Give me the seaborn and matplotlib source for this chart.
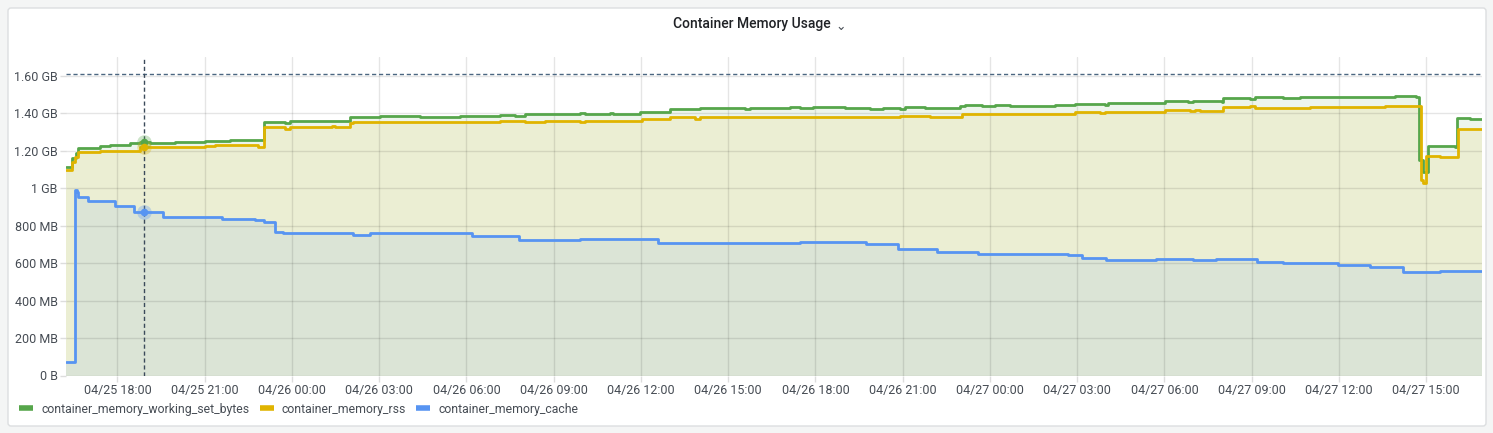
import matplotlib
matplotlib.use("Agg")
import matplotlib.pyplot as plt
import matplotlib.dates as mdates
from matplotlib.lines import Line2D
from matplotlib.patches import FancyBboxPatch
from matplotlib.ticker import FuncFormatter, MultipleLocator
from matplotlib.transforms import IdentityTransform
import pandas as pd
import seaborn as sns

# values in MB, step change points
ws_times = [
    "04-25 16:14", "04-25 16:27", "04-25 16:35", "04-25 16:39", "04-25 17:24", "04-25 17:45",
    "04-25 17:57", "04-25 18:26", "04-25 18:47", "04-25 19:07", "04-25 19:59", "04-25 20:16",
    "04-25 21:01", "04-25 21:11", "04-25 21:52", "04-25 23:03", "04-25 23:46", "04-25 23:56",
    "04-26 00:58", "04-26 02:00", "04-26 03:02", "04-26 04:24", "04-26 05:47", "04-26 07:09",
    "04-26 07:40", "04-26 08:01", "04-26 08:42", "04-26 09:54", "04-26 10:05", "04-26 10:56",
    "04-26 11:02", "04-26 11:58", "04-26 12:02", "04-26 13:00", "04-26 14:02", "04-26 15:35",
    "04-26 15:45", "04-26 16:47", "04-26 17:07", "04-26 17:28", "04-26 17:55", "04-26 18:09",
    "04-26 19:01", "04-26 19:52", "04-26 20:19", "04-26 20:54", "04-26 21:05", "04-26 21:46",
    "04-26 22:58", "04-26 23:08", "04-26 23:43", "04-27 00:10", "04-27 00:41", "04-27 01:43",
    "04-27 02:14", "04-27 02:55", "04-27 03:57", "04-27 04:03", "04-27 06:01", "04-27 06:48",
    "04-27 06:59", "04-27 07:59", "04-27 08:01", "04-27 08:56", "04-27 09:07", "04-27 09:58",
    "04-27 10:04", "04-27 10:39", "04-27 11:00", "04-27 11:48", "04-27 12:02", "04-27 12:54",
    "04-27 13:55", "04-27 14:06", "04-27 14:39", "04-27 14:45", "04-27 14:49", "04-27 14:53",
    "04-27 15:04", "04-27 15:59", "04-27 16:03", "04-27 16:30",
]
ws_values = [
    1112, 1160, 1187, 1215, 1226, 1228,
    1232, 1242, 1245, 1240, 1247, 1244,
    1252, 1249, 1256, 1352, 1347, 1357,
    1361, 1380, 1384, 1381, 1387, 1389,
    1384, 1396, 1395, 1402, 1396, 1400,
    1398, 1405, 1407, 1421, 1427, 1425,
    1428, 1427, 1434, 1428, 1434, 1432,
    1430, 1423, 1427, 1421, 1432, 1427,
    1437, 1443, 1437, 1444, 1436, 1439,
    1444, 1448, 1443, 1452, 1466, 1460,
    1466, 1460, 1482, 1478, 1484, 1485,
    1480, 1485, 1489, 1485, 1489, 1487,
    1491, 1494, 1487, 1149, 1149, 1087,
    1224, 1219, 1372, 1368,
]

rss_times = [
    "04-25 16:14", "04-25 16:27", "04-25 16:33", "04-25 16:39", "04-25 17:24", "04-25 18:47",
    "04-25 19:59", "04-25 20:16", "04-25 21:01", "04-25 21:22", "04-25 22:50", "04-25 23:03",
    "04-25 23:46", "04-25 23:56", "04-26 00:58", "04-26 01:23", "04-26 01:29", "04-26 02:00",
    "04-26 02:06", "04-26 07:09", "04-26 08:01", "04-26 08:42", "04-26 09:54", "04-26 10:05",
    "04-26 11:58", "04-26 12:02", "04-26 13:00", "04-26 13:52", "04-26 14:02", "04-26 15:35",
    "04-26 16:26", "04-26 17:28", "04-26 17:55", "04-26 18:09", "04-26 19:42", "04-26 20:48",
    "04-26 20:54", "04-26 21:56", "04-26 22:17", "04-26 23:02", "04-27 00:21", "04-27 00:41",
    "04-27 01:53", "04-27 02:55", "04-27 03:47", "04-27 03:57", "04-27 04:59", "04-27 05:09",
    "04-27 06:01", "04-27 06:53", "04-27 07:03", "04-27 07:13", "04-27 08:01", "04-27 08:56",
    "04-27 09:07", "04-27 09:58", "04-27 11:00", "04-27 12:54", "04-27 13:35", "04-27 14:45",
    "04-27 14:49", "04-27 14:53", "04-27 14:59", "04-27 15:28", "04-27 16:05",
]
rss_values = [
    1096, 1140, 1165, 1194, 1199, 1220,
    1222, 1220, 1226, 1228, 1220, 1327,
    1318, 1327, 1329, 1334, 1329, 1348,
    1352, 1357, 1354, 1357, 1354, 1359,
    1356, 1368, 1379, 1370, 1382, 1379,
    1382, 1379, 1382, 1379, 1380, 1379,
    1384, 1379, 1382, 1396, 1398, 1395,
    1396, 1407, 1402, 1409, 1405, 1404,
    1416, 1412, 1418, 1414, 1432, 1437,
    1430, 1428, 1434, 1432, 1441, 1441,
    1043, 1030, 1171, 1165, 1317,
]

cache_times = [
    "04-25 16:14", "04-25 16:32", "04-25 16:37", "04-25 16:39", "04-25 17:00", "04-25 17:55",
    "04-25 18:34", "04-25 19:34", "04-25 21:36", "04-25 22:44", "04-25 23:03", "04-25 23:25",
    "04-25 23:42", "04-26 02:06", "04-26 02:41", "04-26 06:12", "04-26 07:49", "04-26 09:54",
    "04-26 12:35", "04-26 14:22", "04-26 17:28", "04-26 19:44", "04-26 20:50", "04-26 22:11",
    "04-26 23:35", "04-27 02:41", "04-27 03:10", "04-27 03:59", "04-27 05:42", "04-27 06:59",
    "04-27 07:46", "04-27 09:11", "04-27 10:04", "04-27 11:58", "04-27 13:04", "04-27 14:12",
    "04-27 15:28",
]
cache_values = [
    74, 989, 980, 954, 931, 906,
    873, 847, 835, 829, 819, 767,
    762, 751, 758, 746, 723, 728,
    705, 708, 714, 703, 675, 660,
    650, 644, 628, 616, 621, 616,
    623, 607, 598, 591, 580, 554,
    559,
]

series_names = ["container_memory_working_set_bytes", "container_memory_rss", "container_memory_cache"]
series_colors = ["#56a64b", "#e0b400", "#5794f2"]
start_time = "04-25 16:14"
end_time = "04-27 16:55"
hover_time = "04-25 18:55"
limit_mb = 1610.6  # 1.5 GiB

YEAR = "2023-"


def to_frame(name, times, values):
    times = list(times) + [end_time]
    values = list(values) + [values[-1]]
    return pd.DataFrame({
        "series": name,
        "time": pd.to_datetime([YEAR + t for t in times]),
        "value": values,
    })


df = pd.concat([
    to_frame(series_names[0], ws_times, ws_values),
    to_frame(series_names[1], rss_times, rss_values),
    to_frame(series_names[2], cache_times, cache_values),
], ignore_index=True)

sns.set_theme(style="white")
plt.rcParams["font.family"] = ["Roboto", "DejaVu Sans"]
text_color = "#464c54"

fig = plt.figure(figsize=(14.93, 4.33), dpi=100, facecolor="#f4f5f5")
panel = FancyBboxPatch((8, 7), 1478, 418, boxstyle="round,pad=0,rounding_size=3",
                       transform=IdentityTransform(), facecolor="white",
                       edgecolor="#dcdee0", linewidth=1, zorder=-10)
fig.patches.append(panel)

ax = fig.add_axes([66 / 1493, 1 - 375.5 / 433, (1482 - 66) / 1493, (375.5 - 57) / 433])
ax.set_facecolor("none")
ax.set_zorder(1)

palette = dict(zip(series_names, series_colors))
sns.lineplot(data=df, x="time", y="value", hue="series", palette=palette,
             drawstyle="steps-post", linewidth=2, legend=False, ax=ax, zorder=3,
             estimator=None, sort=True)

for name, color in zip(series_names, series_colors):
    sub = df[df["series"] == name]
    ax.fill_between(sub["time"], 0, sub["value"], step="post", color=color,
                    alpha=0.1, linewidth=0, zorder=1)

# threshold line
ax.axhline(limit_mb, color="#4b6680", linestyle=(0, (3, 2)), linewidth=1, zorder=2)

# hover crosshair
hover = pd.Timestamp(YEAR + hover_time)
ax.axvline(hover, color="#3b4a5a", linestyle=(0, (3, 2)), linewidth=1, zorder=4)
for name, color in zip(series_names, series_colors):
    sub = df[df["series"] == name].set_index("time")["value"]
    val = sub.asof(hover)
    ax.scatter([hover], [val], s=110, color=color, alpha=0.3, linewidths=0, zorder=5)
    ax.scatter([hover], [val], s=30, color=color, linewidths=0, zorder=6)

ax.set_xlim(pd.Timestamp(YEAR + start_time), pd.Timestamp(YEAR + end_time))
ax.set_ylim(0, 1700)

ax.xaxis.set_major_locator(mdates.HourLocator(byhour=range(0, 24, 3)))
ax.xaxis.set_major_formatter(mdates.DateFormatter("%m/%d %H:%M"))
ax.set_yticks(range(0, 1601, 200))


def fmt_bytes(v, pos):
    if v == 0:
        return "0 B"
    if v < 1000:
        return f"{v:.0f} MB"
    if v == 1000:
        return "1 GB"
    return f"{v / 1000:.2f} GB"


ax.yaxis.set_major_formatter(FuncFormatter(fmt_bytes))

ax.set_axisbelow("line")
ax.grid(True, color="black", alpha=0.1, linewidth=1)
for s in ax.spines.values():
    s.set_visible(False)
ax.tick_params(axis="both", which="major", length=4, width=1, color="#dddddd",
               labelsize=9, labelcolor=text_color, pad=2, bottom=True, left=True)
ax.set_xlabel("")
ax.set_ylabel("")

fig.text(752 / 1493, 1 - 24 / 433, "Container Memory Usage", ha="center", va="center",
         fontsize=10, color="#202226", fontweight="medium")
fig.text(841 / 1493, 1 - 26 / 433, "\u2304", ha="center", va="center",
         fontsize=9, color="#464c54", family=["DejaVu Sans"])

handles = [Line2D([0], [0], color=c, linewidth=4, solid_capstyle="butt") for c in series_colors]
fig.legend(handles, series_names, loc="center left", bbox_to_anchor=(19 / 1493, 1 - 409 / 433),
           ncol=3, frameon=False, fontsize=8.8, handlelength=1.15, handletextpad=0.65,
           columnspacing=0.85, borderpad=0, borderaxespad=0, labelcolor=text_color)

fig.savefig("out.png", dpi=100, facecolor=fig.get_facecolor())
plt.close(fig)
